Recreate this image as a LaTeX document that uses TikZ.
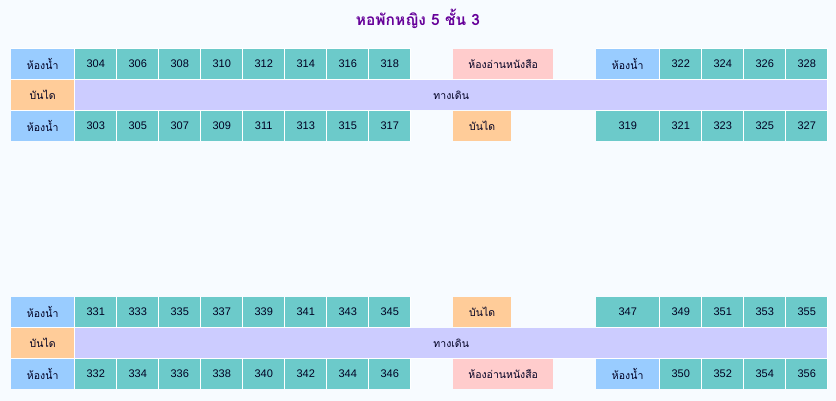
\documentclass[tikz,border=0pt]{standalone}
\usepackage{fontspec}
\setmainfont{Liberation Sans}
\newfontfamily\thaifont[Script=Thai]{Loma}
\definecolor{pagebg}{HTML}{F7FBFF}
\definecolor{roomteal}{HTML}{6CCACA}
\definecolor{bathblue}{HTML}{99CCFF}
\definecolor{stairorange}{HTML}{FFCC99}
\definecolor{hallviolet}{HTML}{CCCCFF}
\definecolor{readpink}{HTML}{FFCCCC}
\definecolor{titlepurple}{HTML}{660099}
\definecolor{celltext}{HTML}{000022}
\begin{document}
\begin{tikzpicture}[x=1pt,y=-1pt,
   cell/.style={anchor=north west,inner sep=0pt,minimum height=29.5pt,text=celltext,font=\fontsize{11}{13}\selectfont},
   thaicell/.style={cell,font=\thaifont\fontsize{10.5}{12}\selectfont},
   room/.style={cell,fill=roomteal,minimum width=41pt},
   wideroom/.style={cell,fill=roomteal,minimum width=63pt},
   bath/.style={thaicell,fill=bathblue,minimum width=63pt},
   stair/.style={thaicell,fill=stairorange,minimum width=63pt},
   midstair/.style={thaicell,fill=stairorange,minimum width=58pt},
   hall/.style={thaicell,fill=hallviolet,minimum width=752pt},
   reading/.style={thaicell,fill=readpink,minimum width=100pt}]
   \fill [pagebg] (0,0) rectangle (836,401);
   \useasboundingbox (0,0) rectangle (836,401);
   \node [font=\thaifont\bfseries\fontsize{15.5}{18}\selectfont,text=titlepurple] (title) at (418,19) {หอพักหญิง 5 ชั้น 3};
   \foreach \y in {49,297} {
      \fill [white] (10.5,\y-0.5) rectangle (410.5,\y+92);
      \fill [white] (595.5,\y-0.5) rectangle (827.5,\y+92);
      \fill [white] (10.5,\y+30.5) rectangle (827.5,\y+61.5);
   }
   % upper wing
   \node [bath] (bathA) at (11,49) {ห้องน้ำ};
   \foreach \n [count=\i from 0] in {304,306,...,318}
      \node [room] (r\n) at ({75+42*\i},49) {\n};
   \node [reading] (readA) at (453,49) {ห้องอ่านหนังสือ};
   \node [bath] (bathB) at (596,49) {ห้องน้ำ};
   \foreach \n [count=\i from 0] in {322,324,326,328}
      \node [room] (r\n) at ({660+42*\i},49) {\n};
   \node [stair] (stairA) at (11,80) {บันได};
   \node [hall] (hallA) at (75,80) {ทางเดิน};
   \node [bath] (bathC) at (11,111) {ห้องน้ำ};
   \foreach \n [count=\i from 0] in {303,305,...,317}
      \node [room] (r\n) at ({75+42*\i},111) {\n};
   \node [midstair] (stairB) at (453,111) {บันได};
   \node [wideroom] (r319) at (596,111) {319};
   \foreach \n [count=\i from 0] in {321,323,325,327}
      \node [room] (r\n) at ({660+42*\i},111) {\n};
   % lower wing
   \node [bath] (bathD) at (11,297) {ห้องน้ำ};
   \foreach \n [count=\i from 0] in {331,333,...,345}
      \node [room] (r\n) at ({75+42*\i},297) {\n};
   \node [midstair] (stairC) at (453,297) {บันได};
   \node [wideroom] (r347) at (596,297) {347};
   \foreach \n [count=\i from 0] in {349,351,353,355}
      \node [room] (r\n) at ({660+42*\i},297) {\n};
   \node [stair] (stairD) at (11,328) {บันได};
   \node [hall] (hallB) at (75,328) {ทางเดิน};
   \node [bath] (bathE) at (11,359) {ห้องน้ำ};
   \foreach \n [count=\i from 0] in {332,334,...,346}
      \node [room] (r\n) at ({75+42*\i},359) {\n};
   \node [reading] (readB) at (453,359) {ห้องอ่านหนังสือ};
   \node [bath] (bathF) at (596,359) {ห้องน้ำ};
   \foreach \n [count=\i from 0] in {350,352,354,356}
      \node [room] (r\n) at ({660+42*\i},359) {\n};
\end{tikzpicture}
\end{document}
